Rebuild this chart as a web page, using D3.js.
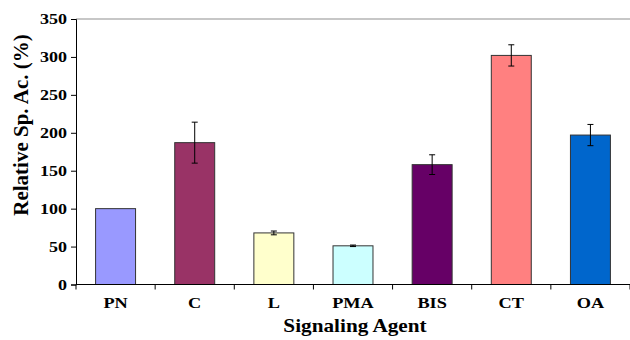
<!DOCTYPE html>
<html>
<head>
<meta charset="utf-8">
<script src="https://cdn.jsdelivr.net/npm/d3@7"></script>
<style>
  body { margin: 0; background: #fff; }
  svg text { font-family: "Liberation Serif", "Times New Roman", serif; font-weight: bold; fill: #000; }
</style>
</head>
<body>
<svg id="chart" width="630" height="340"></svg>
<script>
var agents = ['PN', 'C', 'L', 'PMA', 'BIS', 'CT', 'OA'];
var activity = [100, 187, 68, 51, 158, 302, 197];
var errors = [0, 27, 2.5, 1, 13, 14, 14];
var colors = ['#9999ff', '#993366', '#ffffcc', '#ccffff', '#660066', '#ff8080', '#0066cc'];
var yTicks = [0, 50, 100, 150, 200, 250, 300, 350];

var svg = d3.select('#chart');
var plotLeft = 76, plotRight = 630, plotTop = 19, plotBottom = 284.5;
var stretch = 1.18; // the original figure is a bit wider than tall

var x = d3.scaleBand()
    .domain(agents)
    .range([plotLeft, plotRight])
    .paddingInner(0.495)
    .paddingOuter(0.2475);

var y = d3.scaleLinear()
    .domain([0, 350])
    .range([plotBottom, plotTop]);

// top border of plot area
svg.append('line')
    .attr('x1', plotLeft).attr('x2', plotRight)
    .attr('y1', y(350)).attr('y2', y(350))
    .attr('stroke', '#b4b4b4')
    .attr('stroke-width', 1.5);

// bars
svg.selectAll('rect.bar')
    .data(agents)
    .enter()
    .append('rect')
    .attr('class', 'bar')
    .attr('x', function(d) { return x(d); })
    .attr('y', function(d, i) { return y(activity[i]); })
    .attr('width', x.bandwidth())
    .attr('height', function(d, i) { return y(0) - y(activity[i]); })
    .attr('fill', function(d, i) { return colors[i]; })
    .attr('stroke', '#333')
    .attr('stroke-width', 1);

// error bars
var err = svg.selectAll('g.err')
    .data(agents.filter(function(d, i) { return errors[i] > 0; }))
    .enter()
    .append('g')
    .attr('class', 'err')
    .attr('stroke', '#000')
    .attr('stroke-width', 1);

err.each(function(d) {
    var i = agents.indexOf(d);
    var cx = x(d) + x.bandwidth() / 2;
    var g = d3.select(this);
    var hi = y(activity[i] + errors[i]), lo = y(activity[i] - errors[i]);
    g.append('line').attr('x1', cx).attr('x2', cx).attr('y1', hi).attr('y2', lo);
    g.append('line').attr('x1', cx - 3).attr('x2', cx + 3).attr('y1', hi).attr('y2', hi);
    g.append('line').attr('x1', cx - 3).attr('x2', cx + 3).attr('y1', lo).attr('y2', lo);
});

// y axis
var yAxis = svg.append('g')
    .attr('transform', 'translate(' + plotLeft + ',0)')
    .call(d3.axisLeft(y).tickValues(yTicks).tickSize(5).tickPadding(2.5));
yAxis.attr('font-family', null).attr('font-size', null);
yAxis.select('.domain').attr('stroke', '#000');
yAxis.selectAll('.tick line').attr('stroke', '#000');
yAxis.selectAll('.tick text')
    .style('font-size', '15px')
    .attr('transform', 'scale(1.2,1)');

// x axis
svg.append('line')
    .attr('x1', plotLeft).attr('x2', plotRight)
    .attr('y1', y(0)).attr('y2', y(0))
    .attr('stroke', '#000');

svg.selectAll('line.xtick')
    .data(d3.range(agents.length + 1))
    .enter()
    .append('line')
    .attr('class', 'xtick')
    .attr('x1', function(i) { return plotLeft + i * x.step(); })
    .attr('x2', function(i) { return plotLeft + i * x.step(); })
    .attr('y1', y(0))
    .attr('y2', y(0) + 5)
    .attr('stroke', '#000');

svg.selectAll('text.xlabel')
    .data(agents)
    .enter()
    .append('text')
    .attr('class', 'xlabel')
    .attr('transform', function(d) {
        return 'translate(' + (x(d) + x.bandwidth() / 2) + ',308) scale(' + stretch + ',1)';
    })
    .attr('text-anchor', 'middle')
    .style('font-size', '15.5px')
    .text(function(d) { return d; });

// axis titles
svg.append('text')
    .attr('transform', 'translate(355,332) scale(' + stretch + ',1)')
    .attr('text-anchor', 'middle')
    .style('font-size', '18px')
    .text('Signaling Agent');

svg.append('text')
    .attr('transform', 'translate(28,125) rotate(-90)')
    .attr('text-anchor', 'middle')
    .style('font-size', '21px')
    .text('Relative Sp. Ac. (%)');
</script>
</body>
</html>
